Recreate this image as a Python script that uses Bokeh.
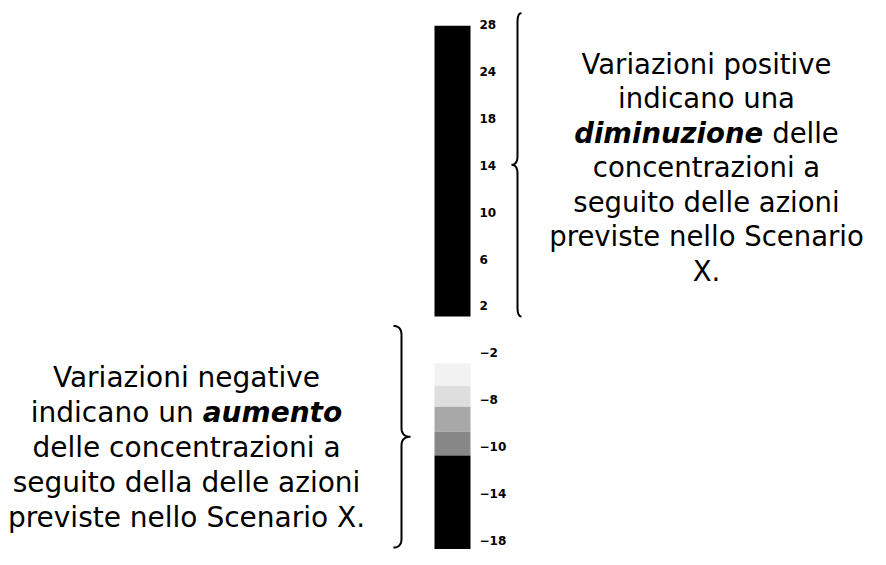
import numpy as np
from bokeh.plotting import figure
from bokeh.models import Range1d
from bokeh.core.properties import value
from bokeh.embed import file_html
from bokeh.resources import INLINE

# ---------------- data ----------------
tick_values = [26, 22, 18, 14, 10, 6, 2, -2, -6, -10, -14, -18]
tick_labels = ["28", "24", "18", "14", "10", "6", "2",
               "\u22122", "\u22128", "\u221210", "\u221214", "\u221218"]

# colour-bar cells (value units)
cell_top = [25.9, -2.9, -4.8, -6.6, -8.7, -10.75]
cell_bottom = [1.1, -4.8, -6.6, -8.7, -10.75, -20.0]
cell_color = ["#000000", "#f2f2f2", "#dedede", "#a8a8a8", "#878787", "#000000"]

pos_text = ["Variazioni positive", "indicano una", ("diminuzione", "delle"),
            "concentrazioni a", "seguito delle azioni",
            "previste nello Scenario", "X."]
neg_text = ["Variazioni negative", ("indicano un", "aumento"),
            "delle concentrazioni a", "seguito della delle azioni",
            "previste nello Scenario X."]

# ---------------- layout helpers ----------------
W, H = 870, 549
PX_PER_UNIT = 11.727
REF_V, REF_PX = 26.0, 24.0


def v_of(py):
    return REF_V - (py - REF_PX) / PX_PER_UNIT


def px_of(v):
    return REF_PX + (REF_V - v) * PX_PER_UNIT


FONT = "DejaVu Sans"
REG = dict(a=613, c=550, d=635, e=615, i=278, l=278, n=634, o=612, u=634)
REG[" "] = 318
BLD = dict(a=675, d=716, e=678, i=343, m=1042, n=712, o=687, t=478, u=712, z=593)


def width(s, table, fs):
    return sum(table.get(ch, 600) for ch in s) * fs / 1000.0


p = figure(width=W, height=H, output_backend="svg", toolbar_location=None,
           x_range=Range1d(0, W), y_range=Range1d(v_of(H), v_of(0)),
           x_axis_location=None, y_axis_location=None, min_border=0)
p.outline_line_color = None
p.xgrid.visible = False
p.ygrid.visible = False
p.background_fill_color = "white"

# colour bar
BAR_L, BAR_R = 434, 470
p.quad(left=BAR_L, right=BAR_R, top=cell_top, bottom=cell_bottom,
       fill_color=cell_color, line_color=None)

# tick labels
p.text(x=[479] * len(tick_values), y=tick_values, text=tick_labels,
       text_font=value(FONT), text_font_style="bold", text_font_size="12px",
       text_baseline="middle", text_align="left", text_color="black")


# braces
def brace(x0, h, wt, wh, v_top, v_bot, r=9):
    yt, yb = px_of(v_top), px_of(v_bot)
    ym = (yt + yb) / 2
    t = np.linspace(0, 1, 12)

    def quad(p0, c, p1):
        return (((1 - t) ** 2)[:, None] * np.array(p0)
                + (2 * (1 - t) * t)[:, None] * np.array(c)
                + (t ** 2)[:, None] * np.array(p1))

    seg = [
        quad((x0 + h * wh, yt), (x0, yt), (x0, yt + r)),
        np.array([(x0, yt + r), (x0, ym - r)]),
        quad((x0, ym - r), (x0, ym), (x0 - h * wt, ym)),
        quad((x0 - h * wt, ym), (x0, ym), (x0, ym + r)),
        np.array([(x0, ym + r), (x0, yb - r)]),
        quad((x0, yb - r), (x0, yb), (x0 + h * wh, yb)),
    ]
    pts = np.vstack(seg)
    return pts[:, 0], [v_of(y) for y in pts[:, 1]]


bx, by = brace(517, 1, 6, 4, 26.97, 1.1)
p.line(bx, by, line_color="black", line_width=2)
bx, by = brace(401, -1, 9, 8, 0.29, -18.6)
p.line(bx, by, line_color="black", line_width=2)


def put(x, y, s, fs, style="normal", align="center"):
    p.text(x=[x], y=[v_of(y)], text=[s], text_font=value(FONT),
           text_font_size=f"{fs}px", text_font_style=style,
           text_align=align, text_baseline="alphabetic", text_color="black")


def block(lines, cx, y0, dy, fs):
    for i, ln in enumerate(lines):
        y = y0 + dy * i
        if isinstance(ln, tuple):
            a, b = ln
            a_bold = a in ("diminuzione",)
            if a_bold:
                wa, wb = width(a, BLD, fs), width(b, REG, fs)
            else:
                wa, wb = width(a, REG, fs), width(b, BLD, fs)
            sp = width(" ", REG, fs)
            x_start = cx - (wa + sp + wb) / 2
            put(x_start, y, a, fs, "bold italic" if a_bold else "normal", "left")
            put(x_start + wa + sp, y, b, fs, "normal" if a_bold else "bold italic", "left")
        else:
            put(cx, y, ln, fs)


block(pos_text, 706, 63, 34.5, 27.5)
block(neg_text, 186, 377, 35, 28)

open("out.html", "w").write(file_html(p, INLINE))
